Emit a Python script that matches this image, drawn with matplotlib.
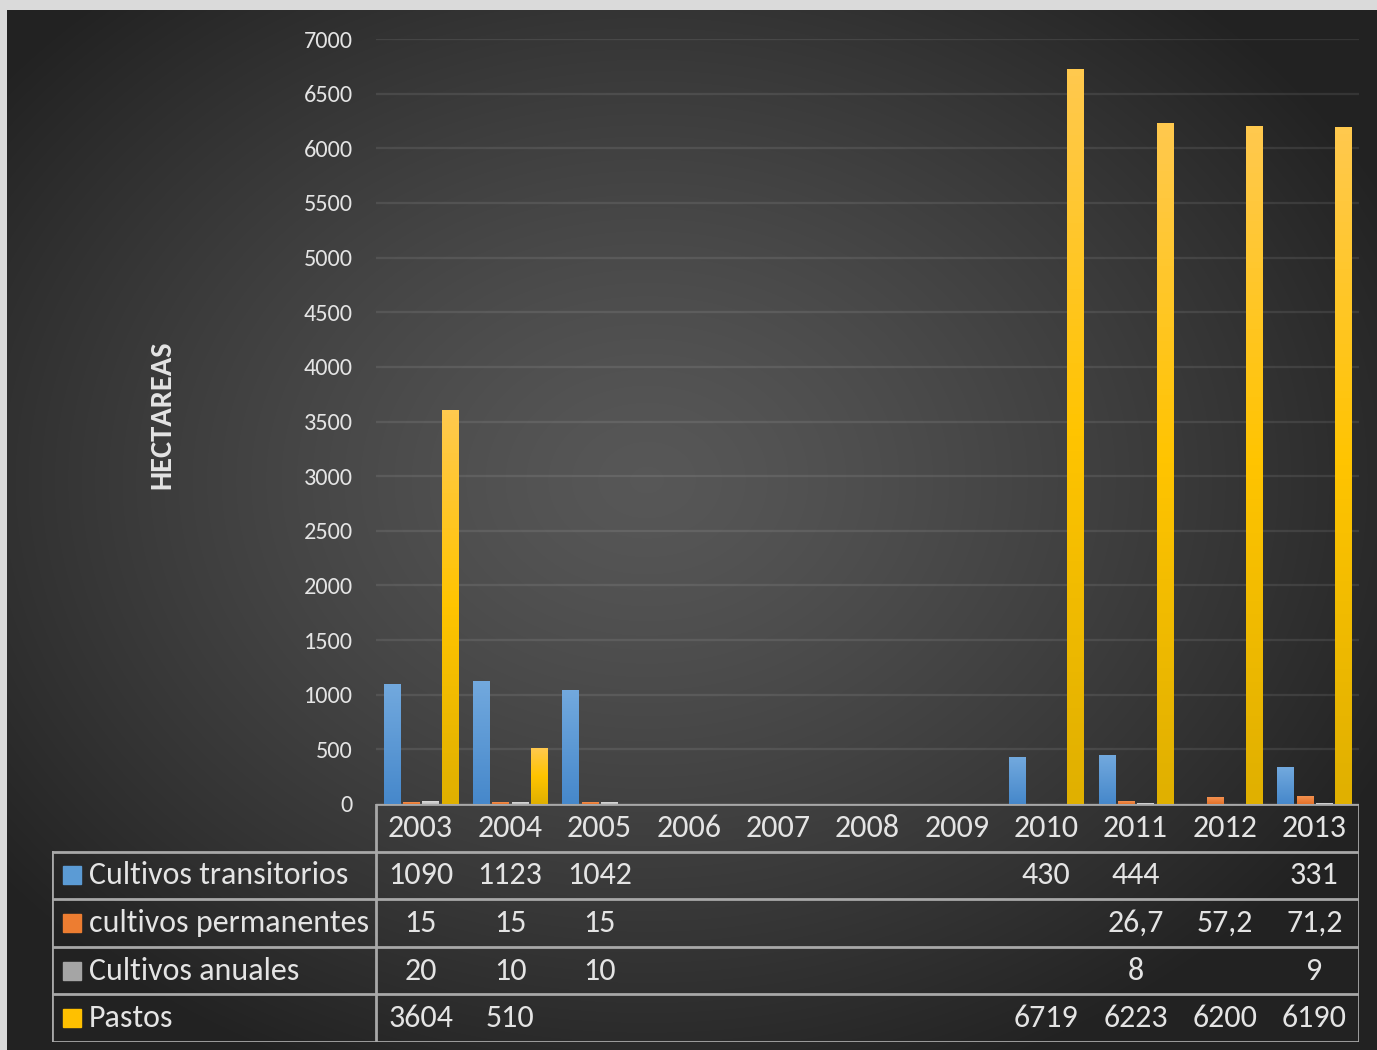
import numpy as np
import matplotlib.pyplot as plt
from matplotlib.colors import LinearSegmentedColormap

plt.rcParams['font.family'] = ['Carlito', 'Liberation Sans Narrow', 'DejaVu Sans']

years = ['2003', '2004', '2005', '2006', '2007', '2008', '2009', '2010', '2011', '2012', '2013']
series_names = ['Cultivos transitorios', 'cultivos permanentes', 'Cultivos anuales', 'Pastos']
transitorios = [1090, 1123, 1042, None, None, None, None, 430, 444, None, 331]
permanentes = [15, 15, 15, None, None, None, None, None, 26.7, 57.2, 71.2]
anuales = [20, 10, 10, None, None, None, None, None, 8, None, 9]
pastos = [3604, 510, None, None, None, None, None, 6719, 6223, 6200, 6190]
yticks = [0, 500, 1000, 1500, 2000, 2500, 3000, 3500, 4000, 4500, 5000, 5500, 6000, 6500, 7000]

series = [transitorios, permanentes, anuales, pastos]
key_colors = ['#5B9BD5', '#ED7D31', '#A5A5A5', '#FFC000']
grad_colors = [('#4688cb', '#72a9de'), ('#e5722a', '#f39150'),
               ('#bdbdbd', '#dcdcdc'), ('#e0b000', '#ffc400', '#ffc94e')]
txt = '#e4e4e4'

W, H = 1377, 1050
fig = plt.figure(figsize=(W / 100, H / 100), dpi=100, facecolor='#dadada')

# dark radial background
bg = fig.add_axes([7 / W, 0, 1 - 7 / W, 1 - 10 / H])
yy, xx = np.mgrid[0:1040, 0:1370]
r = np.sqrt(((xx - 640) / 820.0) ** 2 + ((yy - 470) / 640.0) ** 2)
val = 0.345 - (0.345 - 0.14) * np.clip(r, 0, 1) ** 1.3
bg.imshow(val, cmap='gray', vmin=0, vmax=1, aspect='auto', extent=(0, 1, 0, 1), origin='upper')
bg.set_xlim(0, 1)
bg.set_ylim(0, 1)
bg.axis('off')

# main chart
x0, x1 = 376, 1359
ax = fig.add_axes([x0 / W, 1 - 804 / H, (x1 - x0) / W, (804 - 39) / H])
ax.patch.set_alpha(0)
x = np.arange(len(years))
offsets = [-0.325, -0.108, 0.108, 0.325]
bw = 0.18
for s, off, gc in zip(series, offsets, grad_colors):
    h = [0 if v is None else v for v in s]
    bars = ax.bar(x + off, h, bw, color=gc[0], zorder=3)
    cmap = LinearSegmentedColormap.from_list('g', list(gc))
    for b in bars:
        if b.get_height() <= 0:
            continue
        ax.imshow(np.linspace(1, 0, 100).reshape(-1, 1), cmap=cmap, aspect='auto',
                  extent=(b.get_x(), b.get_x() + b.get_width(), 0, b.get_height()), zorder=4)
ax.set_xlim(-0.5, len(years) - 0.5)
ax.set_ylim(0, 7000)
ax.set_yticks(yticks)
ax.set_yticklabels([str(t) for t in yticks])
ax.tick_params(axis='y', length=0, pad=16.5, labelsize=17.5, labelcolor=txt)
ax.set_xticks([])
ax.grid(axis='y', color='white', alpha=0.09, lw=1.6, zorder=0)
for sp in ax.spines.values():
    sp.set_visible(False)
fig.text(162 / W, 1 - 415 / H, 'HECTAREAS', rotation=90, ha='center', va='center',
         fontsize=22, fontweight='bold', color=txt)

# data table
tl = 52
tab = fig.add_axes([tl / W, 1 - 1042 / H, (x1 - tl) / W, (1042 - 804) / H])
tab.patch.set_alpha(0)
left_x = -0.5 - (x0 - tl) / ((x1 - x0) / len(years))
tab.set_xlim(left_x, len(years) - 0.5)
tab.set_ylim(5, 0)
tab.axis('off')
lc = '#a8a8a8'
lw = 2
tab.plot([-0.5, len(years) - 0.5], [0, 0], color=lc, lw=lw, solid_capstyle='butt')
for i in range(1, 6):
    tab.plot([left_x, len(years) - 0.5], [i, i], color=lc, lw=lw)
tab.plot([left_x, left_x], [1, 5], color=lc, lw=lw)
tab.plot([-0.5, -0.5], [0, 5], color=lc, lw=lw)
tab.plot([len(years) - 0.5] * 2, [0, 5], color=lc, lw=lw)
fs = 23
for j, yr in enumerate(years):
    tab.text(j, 0.5, yr, ha='center', va='center', fontsize=fs, color=txt)
unit = (x1 - tl) / (len(years) - 0.5 - left_x)
for i, (name, s, kc) in enumerate(zip(series_names, series, key_colors)):
    yc = i + 1.5
    tab.add_patch(plt.Rectangle((left_x + 11 / unit, yc - 0.19), 18 / unit, 0.38,
                                color=kc, zorder=3))
    tab.text(left_x + 37 / unit, yc, name, ha='left', va='center', fontsize=fs, color=txt)
    for j, v in enumerate(s):
        if v is None:
            continue
        lab = str(v).replace('.', ',')
        tab.text(j, yc, lab, ha='center', va='center', fontsize=fs, color=txt)

fig.savefig('out.png', dpi=100, facecolor=fig.get_facecolor())
